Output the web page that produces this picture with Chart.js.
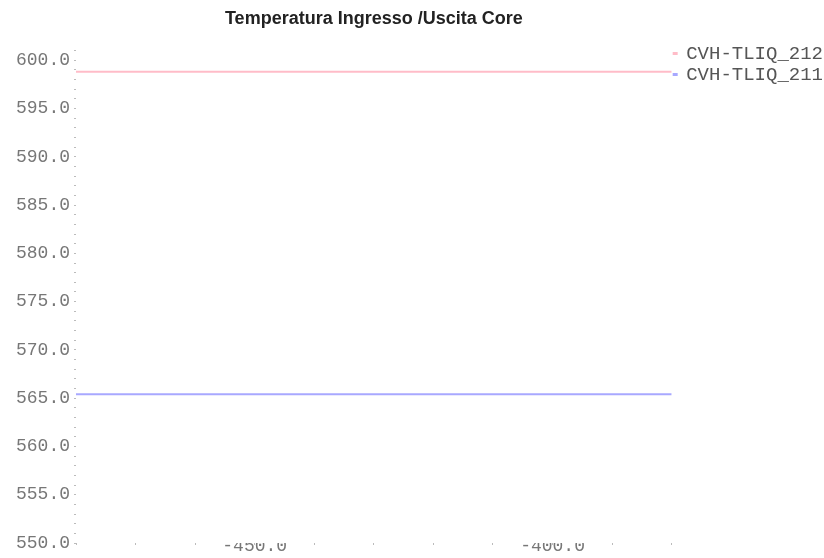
<!DOCTYPE html>
<html>
<head>
<meta charset="utf-8">
<script src="https://cdn.jsdelivr.net/npm/chart.js@4"></script>
<style>
  html, body { margin: 0; padding: 0; background: #fff; }
  #wrap { width: 824px; height: 558px; }
</style>
</head>
<body>
<div id="wrap"><canvas id="grafico"></canvas></div>
<script>
// dati
const titolo = "Temperatura Ingresso /Uscita Core";
const tempi = [-480, -470, -460, -450, -440, -430, -420, -410, -400, -390, -380];
const tliq212 = [598.8, 598.8, 598.8, 598.8, 598.8, 598.8, 598.8, 598.8, 598.8, 598.8, 598.8];
const tliq211 = [565.4, 565.4, 565.4, 565.4, 565.4, 565.4, 565.4, 565.4, 565.4, 565.4, 565.4];
const nomiSerie = ["CVH-TLIQ_212", "CVH-TLIQ_211"];

const punti = (valori) => tempi.map((t, i) => ({ x: t, y: valori[i] }));

const fontTick = { family: "'Liberation Mono', monospace", size: 18 };

new Chart(document.getElementById("grafico"), {
  type: "line",
  data: {
    datasets: [
      { label: nomiSerie[0], data: punti(tliq212), borderColor: "#ffbcc8", backgroundColor: "#ffbcc8", borderWidth: 2, pointRadius: 0 },
      { label: nomiSerie[1], data: punti(tliq211), borderColor: "#a8a8ff", backgroundColor: "#a8a8ff", borderWidth: 2, pointRadius: 0 }
    ]
  },
  options: {
    responsive: true,
    maintainAspectRatio: false,
    animation: false,
    layout: { padding: { left: 0, right: -9, top: 0, bottom: 0 } },
    plugins: {
      title: {
        display: true,
        text: titolo,
        fullSize: false,
        color: "#222",
        font: { family: "'Liberation Sans', Arial, sans-serif", size: 18, weight: "bold" },
        padding: { top: 8, bottom: 21 }
      },
      legend: {
        position: "right",
        align: "start",
        title: { display: true, text: "", font: { size: 10 }, padding: { top: 30, bottom: 0 } },
        labels: {
          color: "#555",
          font: { family: "'Liberation Mono', monospace", size: 19, lineHeight: 1.05 },
          boxWidth: 3,
          boxHeight: 1,
          padding: 2
        }
      },
      tooltip: { enabled: false }
    },
    scales: {
      x: {
        type: "linear",
        min: -480,
        max: -380,
        border: { display: false },
        grid: { drawOnChartArea: false, tickLength: 2, color: "#bbb" },
        ticks: {
          stepSize: 10,
          autoSkip: false,
          color: "#777",
          font: fontTick,
          padding: -10,
          maxRotation: 0,
          callback: (v) => (v % 50 === 0 && v !== -480 ? v.toFixed(1) : "")
        },
        afterFit: (s) => { s.height = 15; }
      },
      y: {
        min: 550,
        max: 601,
        border: { display: false },
        grid: { drawOnChartArea: false, tickLength: 2, color: "#bbb" },
        ticks: {
          stepSize: 1,
          autoSkip: false,
          color: "#777",
          font: fontTick,
          padding: 4,
          callback: (v) => (v % 5 === 0 ? v.toFixed(1) : "")
        },
        afterFit: (s) => { s.width = 76; }
      }
    }
  }
});
</script>
</body>
</html>
